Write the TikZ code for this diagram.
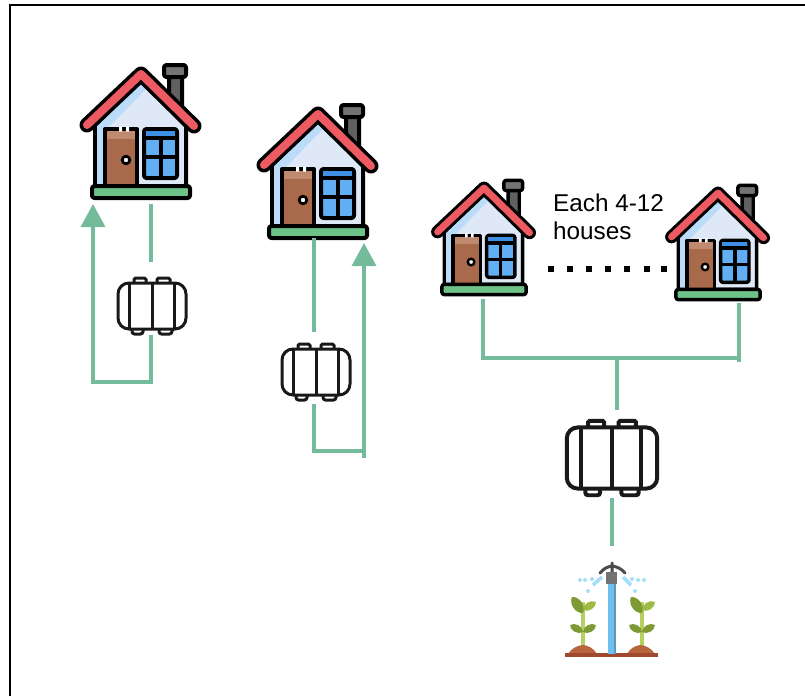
\documentclass[tikz,border=0pt]{standalone}
\usepackage{fontspec}
\setmainfont{Liberation Sans}
\usepackage{xcolor}
\usetikzlibrary{positioning,arrows.meta,calc}
\definecolor{pipegreen}{HTML}{74BB9B}
\definecolor{roofred}{HTML}{EE5A62}
\definecolor{wallblue}{HTML}{DFE8F7}
\definecolor{wallshade}{HTML}{BBDCF8}
\definecolor{doorbrown}{HTML}{A9694B}
\definecolor{doorband}{HTML}{BF8A70}
\definecolor{glassblue}{HTML}{62AEF2}
\definecolor{glassband}{HTML}{3F8FE5}
\definecolor{plategreen}{HTML}{6CC287}
\definecolor{soilbrown}{HTML}{A0492F}
\definecolor{moundbrown}{HTML}{B8643F}
\definecolor{waterblue}{HTML}{6FC0EE}
\definecolor{spraysky}{HTML}{A6DDF8}
\definecolor{stemgreen}{HTML}{B7CF5F}
\definecolor{leafdark}{HTML}{7D9A35}
\definecolor{leaflight}{HTML}{9DBB45}
\begin{document}
\begin{tikzpicture}[x=1pt,y=-1pt,
  pipe/.style={draw=pipegreen, line width=3.3pt},
  pipearrow/.style={pipe, -{Triangle[length=23pt,width=24pt]}},
  caption/.style={font=\fontsize{24.3}{28.5}\selectfont, align=left, anchor=north west, inner sep=0pt},
  pics/house/.style={code={
    \begin{scope}[scale=#1, line width=#1*4pt, draw=black, line join=round]
    \filldraw[fill=gray!75!black, rounded corners=1pt] (28,-118) rectangle (41,-85);
    \filldraw[fill=gray!90!black, rounded corners=2.5pt] (23,-127) rectangle (45,-115);
    \filldraw[fill=wallblue] (-46,-6) -- (-46,-66) -- (0,-112) -- (45,-66) -- (45,-6) -- cycle;
    \fill[wallshade] (-44,-8) -- (-44,-66) -- (0,-110) -- (6,-104) -- (-35,-62) -- (-35,-8) -- cycle;
    \filldraw[fill=doorbrown] (-36,-6) -- (-36,-63) -- (-4,-63) -- (-4,-6);
    \fill[doorband] (-34,-61) rectangle (-6,-53);
    \fill[white] (-22,-65.5) rectangle (-19,-60.5) (-15,-65.5) rectangle (-12,-60.5);
    \filldraw[fill=white, line width=#1*2.8pt] (-15,-32) circle (3.8);
    \filldraw[fill=glassblue, rounded corners=2.5pt] (3,-63) rectangle (36,-14);
    \fill[glassband] (5,-61) rectangle (34,-54);
    \draw (3,-54) -- (36,-54) (3,-35) -- (36,-35) (19.5,-54) -- (19.5,-14);
    \draw[line width=#1*15pt, line cap=round] (-54,-67) -- (0,-118) -- (53,-66);
    \draw[draw=roofred, line width=#1*8pt, line cap=round] (-54,-67) -- (0,-118) -- (53,-66);
    \filldraw[fill=plategreen, rounded corners=2.5pt] (-49,-6) rectangle (49,6);
    \end{scope}}},
  pics/tank/.style={code={
    \begin{scope}[scale=#1, line width=#1*3pt, draw=black!90]
    \coordinate (-n) at (0,-29);
    \coordinate (-s) at (0,29);
    \draw[rounded corners=11pt] (-34,-23) rectangle (34,23);
    \draw (-23,-23) -- (-23,23) (0,-23) -- (0,23) (22,-23) -- (22,23);
    \draw[rounded corners=1.5pt] (-18,-23) -- (-18,-28) -- (-6,-28) -- (-6,-23);
    \draw[rounded corners=1.5pt] (5,-23) -- (5,-28) -- (18,-28) -- (18,-23);
    \draw[rounded corners=2.5pt] (-20,23) -- (-20,28) -- (-9,28) -- (-9,23);
    \draw[rounded corners=2.5pt] (7,23) -- (7,28) -- (20,28) -- (20,23);
    \end{scope}}},
  pics/sprinkler/.style={code={
    \coordinate (-n) at (0,-57);
    % plants
    \foreach \dx in {-29,30} {
      \draw[draw=stemgreen, line width=3.6pt] (\dx,-18) -- (\dx,27);
      \fill[leafdark] (\dx-11,-23) to[bend left=60] (\dx,-7) to[bend left=60] (\dx-11,-23) -- cycle;
      \fill[leaflight] (\dx,-10) to[bend left=60] (\dx+13,-18) to[bend left=60] (\dx,-10) -- cycle;
      \fill[leafdark] (\dx-13,5) to[bend right=60] (\dx,12) to[bend right=60] (\dx-13,5) -- cycle;
      \fill[leafdark] (\dx,12) to[bend right=60] (\dx+13,5) to[bend right=60] (\dx,12) -- cycle;
    }
    \fill[moundbrown] (-44,34) to[bend left=25] (-29,25) to[bend left=25] (-15,34) -- cycle;
    \fill[moundbrown] (15,34) to[bend left=25] (28,25) to[bend left=25] (43,34) -- cycle;
    \draw[draw=soilbrown, line width=3.4pt] (-47,35) -- (46,35);
    % water pipe and head
    \fill[waterblue] (-4,-38) rectangle (4,34);
    \fill[waterblue!80!black] (1.5,-38) rectangle (4,34);
    \draw[draw=black!70, line width=3pt, line cap=round] (-12,-47) to[bend left=20] (0,-54) to[bend left=20] (13,-47) (0,-57) -- (0,-44);
    \fill[black!55] (-6,-48) rectangle (5,-36);
    \draw[draw=spraysky, line width=3.6pt] (-10,-43) -- (-19,-35) (11,-43) -- (19,-35);
    \foreach \sx/\sy in {-32/-40,-27/-40,-20/-41,-24/-29,20/-41,26/-40,32/-40,23/-29} {
      \fill[spraysky] (\sx,\sy) circle (2);
    }}}
]
\useasboundingbox (0,0) rectangle (805,696);
\draw[line width=2pt] (10.3,696) -- (10.3,5.2) -- (805,5.2);
\pic (houseA) at (141,192) {house=1};
\pic (houseB) at (318,232) {house=1};
\pic (houseC) at (484,289.5) {house=.86};
\pic (houseD) at (718,294.5) {house=.86};
\pic (tankA) at (152,306) {tank=1};
\pic (tankB) at (316,372) {tank=1};
\pic (tankC) at (612,458) {tank=1.33};
\pic (sprinklerA) at (612,620) {sprinkler};
\node[caption] (eachnote) at (553,193.5) {Each 4-12\\houses};
% dots between the houses
\foreach \dotx [count=\i] in {551,570,589,608,627,647,664} {
  \node[fill=black, minimum size=6pt, inner sep=0pt] (dot\i) at (\dotx,269) {};
}
% free ends of the pipes
\coordinate (outA) at (151,204);
\coordinate (inA) at (151,262);
\coordinate (cornA) at (151,382);
\coordinate (cornAb) at (93,382);
\coordinate (tipA) at (93,204);
\coordinate (outB) at (314,238);
\coordinate (inB) at (314,332);
\coordinate (cornB) at (314,451);
\coordinate (cornBb) at (364,451);
\coordinate (endB) at (364,458);
\coordinate (tipB) at (364,243);
\coordinate (outC) at (483,299);
\coordinate (cornC) at (483,358);
\coordinate (outD) at (739,303);
\coordinate (cornD) at (739,362);
\coordinate (joinC) at (617,358);
\coordinate (inC) at (617,410);
\coordinate (outT) at (612,498);
\coordinate (inS) at (612,546);
\draw[pipe] (outA) -- (inA);
\draw[pipearrow] (tankA-s -| cornA) -- (cornA) -- (cornAb) -- (tipA);
\draw[pipe] (outB) -- (inB);
\draw[pipe] ($(tankB-s -| cornB)+(0,3)$) -- (cornB) -- (cornBb);
\draw[pipearrow] (endB) -- (tipB);
\draw[pipe] (outC) -- (cornC) -- (cornC -| outD);
\draw[pipe] (outD) -- (cornD);
\draw[pipe] (joinC) -- (inC);
\draw[pipe] (outT) -- (inS);
\end{tikzpicture}
\end{document}
